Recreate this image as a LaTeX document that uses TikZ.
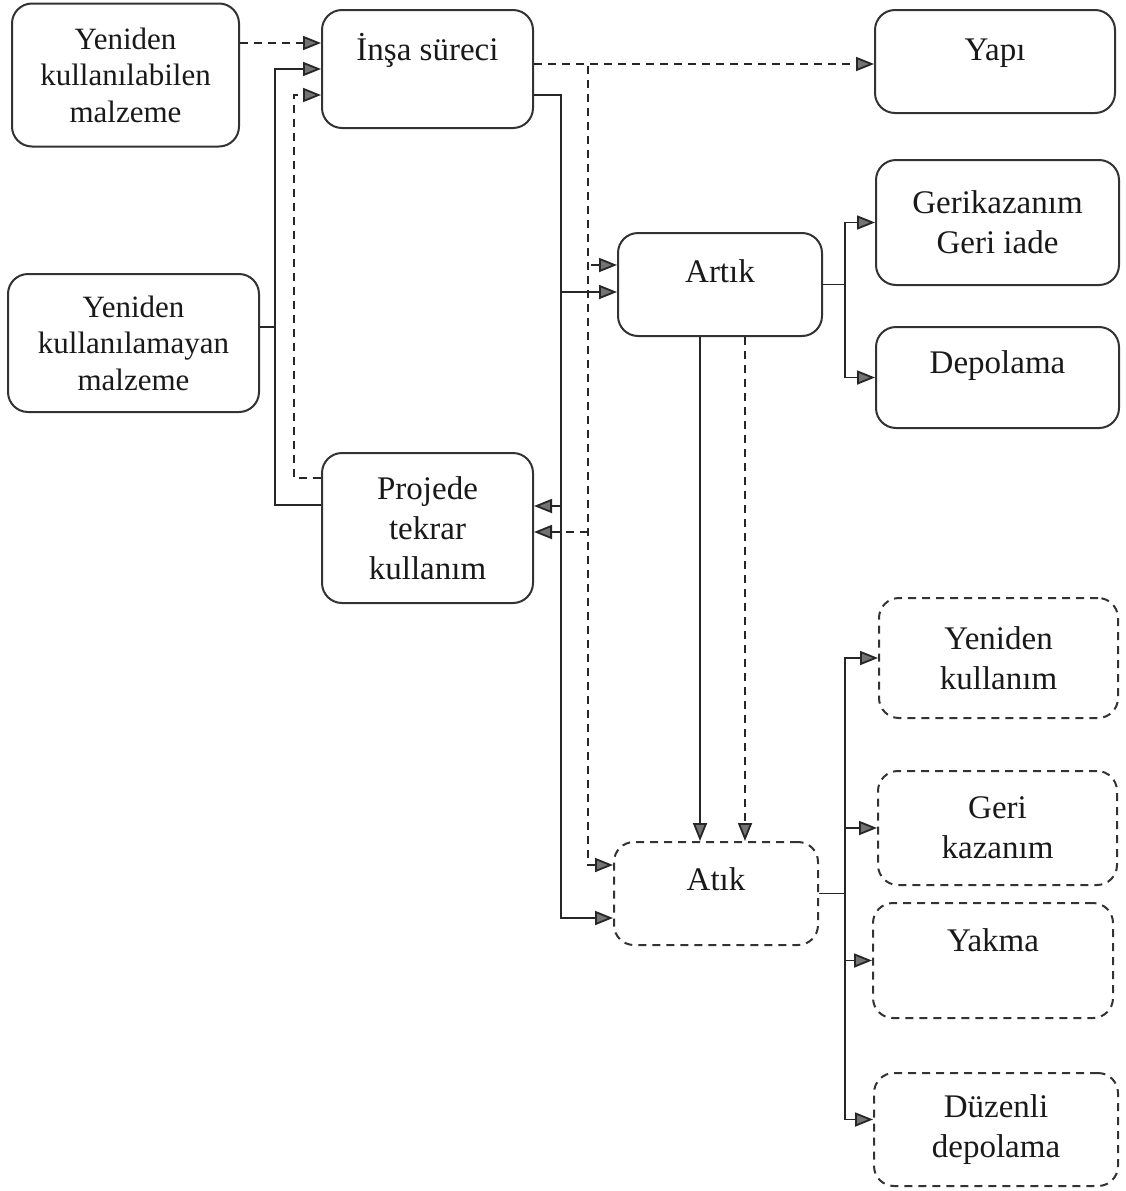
\documentclass[tikz,border=0pt]{standalone}
\usepackage{fontspec}
\setmainfont{Liberation Serif}
\usetikzlibrary{arrows.meta}
\begin{document}
\begin{tikzpicture}[x=1pt,y=-1pt,
  boxbase/.style={rounded corners=20pt, line width=2pt, draw=black!80, inner sep=0pt,
    align=center, text=black!90, font=\fontsize{33}{40}\selectfont},
  solidbox/.style={boxbase},
  dashbox/.style={boxbase, dash pattern=on 8pt off 6pt},
  leftfont/.style={font=\fontsize{31}{36.5}\selectfont},
  lbl/.style={anchor=base, inner sep=0pt, text=black!90, font=\fontsize{33}{40}\selectfont},
  ln/.style={line width=1.8pt, draw=black!85},
  dln/.style={ln, dash pattern=on 8pt off 6pt},
  tip/.style={-{Triangle[length=18pt,width=14pt,fill=black!55]}},
  tipstart/.style={{Triangle[length=18pt,width=14pt,fill=black!55]}-},
]
\useasboundingbox[fill=white] (0,0) rectangle (1126,1191);

% input materials
\node[solidbox, leftfont, minimum width=227, minimum height=143] (b1) at (125.5,75)
  {Yeniden\\kullanılabilen\\malzeme};
\node[solidbox, leftfont, minimum width=251, minimum height=138] (b2) at (133.5,343)
  {Yeniden\\kullanılamayan\\malzeme};

% construction process and reuse in project
\node[solidbox, minimum width=211, minimum height=118] (insa) at (427.5,69) {};
\node[lbl] at (427.5,60) {İnşa süreci};
\node[solidbox, minimum width=211, minimum height=150] (proj) at (427.5,528)
  {Projede\\tekrar\\kullanım};

% structure
\node[solidbox, minimum width=240, minimum height=103] (yapi) at (995,61.5) {};
\node[lbl] at (995,60) {Yapı};

% surplus and its routes
\node[solidbox, minimum width=204, minimum height=103] (artik) at (720,284.5) {};
\node[lbl] at (720,282) {Artık};
\node[solidbox, minimum width=243, minimum height=125] (geri) at (997.5,222.5)
  {Gerikazanım\\Geri iade};
\node[solidbox, minimum width=243, minimum height=101] (depo) at (997.5,377.5) {};
\node[lbl] at (997.5,373) {Depolama};

% waste and its routes
\node[dashbox, minimum width=204, minimum height=103] (atik) at (716,893.5) {};
\node[lbl] at (716,890) {Atık};
\node[dashbox, minimum width=239, minimum height=120] (yk) at (998.5,658)
  {Yeniden\\kullanım};
\node[dashbox, minimum width=239, minimum height=114] (gk) at (997.5,828)
  {Geri\\kazanım};
\node[dashbox, minimum width=240, minimum height=115] (yakma) at (993,960.5) {};
\node[lbl] at (993,951) {Yakma};
\node[dashbox, minimum width=244, minimum height=113] (dz) at (996,1129.5)
  {Düzenli\\depolama};

% trunk lines
\coordinate (trunkL)  at (275,300);
\coordinate (trunkLd) at (294,300);
\coordinate (trunkR)  at (561,300);
\coordinate (trunkRd) at (588,300);
\coordinate (splitA)  at (845,284.5);
\coordinate (splitB)  at (845,893.5);

% into the construction process
\draw[dln,tip] ([yshift=32]b1.east) -- ([yshift=26]insa.west);
\draw[ln,tip] ([yshift=23]proj.west) -| (trunkL) |- (insa.west);
\draw[ln] ([yshift=16]b2.east) -- ++(16,0);
\draw[dln,tip] ([yshift=50]proj.west) -| (trunkLd) |- ([yshift=-26]insa.west);

% out of the construction process (dashed)
\draw[dln,tip] ([yshift=5]insa.east) -- ([yshift=-2.5]yapi.west);
\draw[dln,tip] ([yshift=5]insa.east) -| (trunkRd) |- ([yshift=28.5]atik.west);
\draw[dln,tipstart] ([yshift=19.5]artik.west) -- ++(-30,0);
\draw[dln,tipstart] ([yshift=-4]proj.east) -- ++(55,0);

% out of the construction process (solid)
\draw[ln,tip] ([yshift=-26]insa.east) -| (trunkR) |- ([yshift=-24.5]atik.west);
\draw[ln,tipstart] ([yshift=-7.5]artik.west) -- ++(-57,0);
\draw[ln,tipstart] ([yshift=22]proj.east) -- ++(28,0);

% surplus to waste
\draw[ln,tip] ([xshift=-20]artik.south) -- ([xshift=-16]atik.north);
\draw[dln,tip] ([xshift=25]artik.south) -- ([xshift=29]atik.north);

% surplus branches
\draw[ln] (artik.east) -- (splitA);
\draw[ln,tip] (splitA) |- (geri.west);
\draw[ln,tip] (splitA) |- (depo.west);

% waste branches
\draw[ln] (atik.east) -- (splitB);
\draw[ln,tip] (splitB) |- (yk.west);
\draw[ln,tip] (splitB) |- (gk.west);
\draw[ln,tip] (splitB) |- (yakma.west);
\draw[ln,tip] (splitB) |- ([yshift=10]dz.west);
\end{tikzpicture}
\end{document}
